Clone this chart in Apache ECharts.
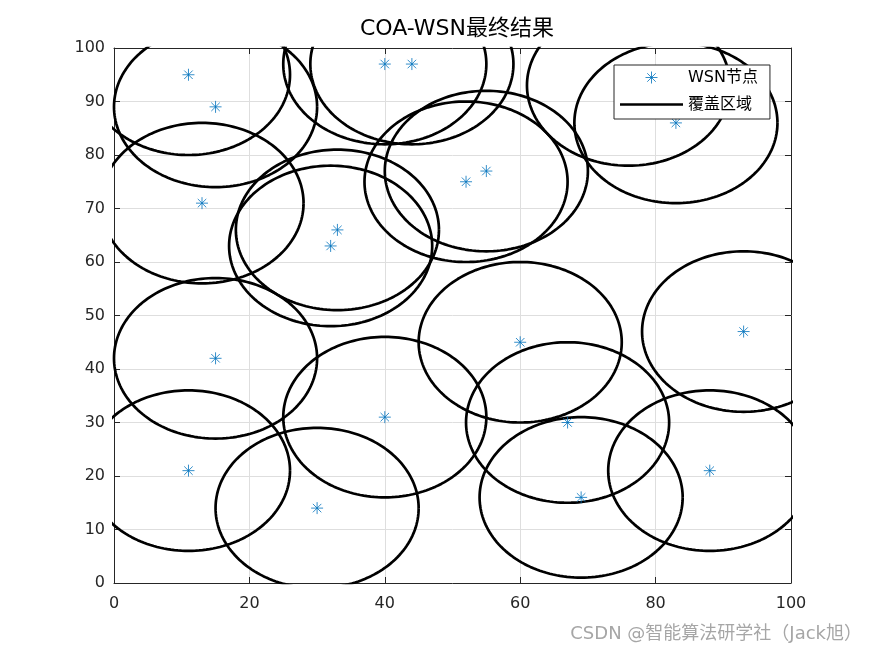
<!DOCTYPE html>
<html>
<head>
<meta charset="utf-8">
<script src="https://cdn.jsdelivr.net/npm/echarts@6/dist/echarts.min.js"></script>
<style>
html,body{margin:0;padding:0;background:#fff;}
#chart{width:875px;height:656px;}
</style>
</head>
<body>
<div id="chart"></div>
<script>
// Node positions (x, y)
const nodeX = [11, 15, 13, 40, 44, 32, 33, 52, 55, 76, 83, 93, 60, 15, 40, 67, 69, 88, 11, 30];
const nodeY = [95, 89, 71, 97, 97, 63, 66, 75, 77, 93, 86, 47, 45, 42, 31, 30, 16, 21, 21, 14];
// Coverage radius of each node
const coverRadius = 15;
const xTicks = [0, 20, 40, 60, 80, 100];
const yTicks = [0, 10, 20, 30, 40, 50, 60, 70, 80, 90, 100];
const titleText = 'COA-WSN最终结果';
const legendNames = ['WSN节点', '覆盖区域'];
const watermark = 'CSDN @智能算法研学社（Jack旭）';

const FONT = 'DejaVu Sans, Noto Sans CJK SC, sans-serif';
const AX = '#262626';
const STAR = 'path://M0,-6L0,6M-6,0L6,0M-4.24,-4.24L4.24,4.24M-4.24,4.24L4.24,-4.24';
const LINE_ICON = 'path://M0,0L63,0L63,2.6L0,2.6Z';

function circlePoints(cx, cy, r) {
  const pts = [];
  const n = 180;
  for (let i = 0; i <= n; i++) {
    const t = 2 * Math.PI * i / n;
    pts.push([cx + r * Math.cos(t), cy + r * Math.sin(t)]);
  }
  return pts;
}

const series = [];
nodeX.forEach((x, i) => {
  series.push({
    name: legendNames[1],
    type: 'line',
    data: circlePoints(x, nodeY[i], coverRadius),
    showSymbol: false,
    symbol: 'none',
    clip: true,
    silent: true,
    lineStyle: { color: '#000', width: 2.7 },
    itemStyle: { color: '#000' },
    z: 2
  });
});
series.push({
  name: legendNames[0],
  type: 'scatter',
  data: nodeX.map((x, i) => [x, nodeY[i]]),
  symbol: STAR,
  symbolSize: 12,
  itemStyle: { color: 'rgba(0,0,0,0)', borderColor: '#0072BD', borderWidth: 1 },
  z: 3
});

const axisCommon = {
  type: 'value', min: 0, max: 100,
  axisLine: { show: true, onZero: false, lineStyle: { color: AX, width: 1 } },
  axisTick: { show: true, inside: true, length: 6, lineStyle: { color: AX } },
};

const option = {
  animation: false,
  backgroundColor: '#fff',
  title: {
    text: titleText, left: 452, top: 13, textAlign: 'center',
    textStyle: { fontFamily: FONT, fontSize: 22, fontWeight: 'normal', color: '#000' }
  },
  legend: {
    data: [
      { name: legendNames[0], icon: STAR, itemStyle: { color: 'rgba(0,0,0,0)', borderColor: '#0072BD', borderWidth: 1 } },
      { name: legendNames[1], icon: LINE_ICON, itemStyle: { color: '#000', borderWidth: 0 } }
    ],
    orient: 'vertical', left: 614, top: 65,
    itemWidth: 63, itemHeight: 12, itemGap: 8,
    symbolKeepAspect: true,
    padding: [3, 12, 5, 6],
    backgroundColor: '#fff', borderColor: AX, borderWidth: 1, borderRadius: 0,
    textStyle: { fontFamily: FONT, fontSize: 16, color: '#000', lineHeight: 19 },
    selectedMode: false,
    z: 10
  },
  grid: { left: 114, right: 84, top: 48, bottom: 73, containLabel: false },
  xAxis: [
    Object.assign({}, axisCommon, {
      position: 'bottom', interval: 20,
      axisLabel: { margin: 13, fontFamily: FONT, fontSize: 16, color: AX,
        formatter: v => xTicks.includes(v) ? String(v) : '' },
      splitLine: { show: true, lineStyle: { color: '#dedede', width: 1 } }
    }),
    Object.assign({}, axisCommon, {
      position: 'top', interval: 20,
      axisLabel: { show: false }, splitLine: { show: false }
    })
  ],
  yAxis: [
    Object.assign({}, axisCommon, {
      position: 'left', interval: 10,
      axisLabel: { margin: 9, fontFamily: FONT, fontSize: 16, color: AX,
        formatter: v => yTicks.includes(v) ? String(v) : '' },
      splitLine: { show: true, lineStyle: { color: '#dedede', width: 1 } }
    }),
    Object.assign({}, axisCommon, {
      position: 'right', interval: 10,
      axisLabel: { show: false }, splitLine: { show: false }
    })
  ],
  graphic: [{
    type: 'text', right: 13, top: 625,
    style: { text: watermark, fontFamily: FONT, fontSize: 18, fill: '#a6a6a6' }
  }],
  series: series
};

const chart = echarts.init(document.getElementById('chart'), null, { renderer: 'canvas' });
chart.setOption(option);
</script>
</body>
</html>
